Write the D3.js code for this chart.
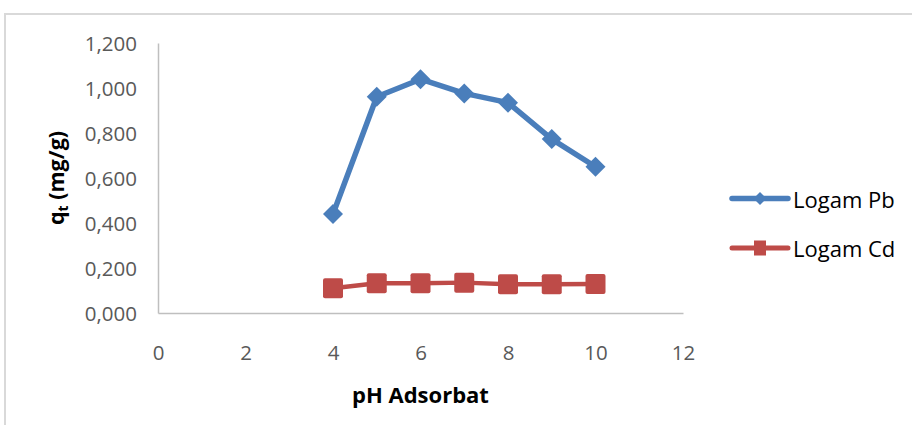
<!DOCTYPE html>
<html>
<head>
<meta charset="utf-8">
<script src="https://cdn.jsdelivr.net/npm/d3@7"></script>
<style>
  html, body { margin: 0; padding: 0; background: #ffffff; }
  svg { display: block; }
  .tick text { font-family: "Open Sans", "Noto Sans", sans-serif; fill: #595959; }
</style>
</head>
<body>
<svg id="chart" width="912" height="425"></svg>
<script>
// pH of the adsorbate solution
const phValues = [4, 5, 6, 7, 8, 9, 10];
// adsorbed amount q_t (mg/g) per metal
const pbValues = [0.440, 0.961, 1.039, 0.976, 0.935, 0.773, 0.650];
const cdValues = [0.110, 0.132, 0.132, 0.135, 0.128, 0.128, 0.129];
const seriesNames = ["Logam Pb", "Logam Cd"];
const xTicks = [0, 2, 4, 6, 8, 10, 12];
const yTicks = [0, 0.2, 0.4, 0.6, 0.8, 1.0, 1.2];
const xTitle = "pH Adsorbat";

const blue = "#4a7ebb";
const red = "#be4b48";

const svg = d3.select("#chart");

// chart frame
svg.append("rect")
  .attr("x", 5).attr("y", 14)
  .attr("width", 930).attr("height", 440)
  .attr("fill", "#ffffff")
  .attr("stroke", "#d9d9d9")
  .attr("stroke-width", 2);

const x = d3.scaleLinear().domain([0, 12]).range([158, 683]);
const y = d3.scaleLinear().domain([0, 1.2]).range([313, 43]);

const commaFmt = v => d3.format(".3f")(v).replace(".", ",");

// y axis
const yAxis = svg.append("g")
  .attr("transform", `translate(${x(0)},0)`)
  .call(d3.axisLeft(y).tickValues(yTicks).tickFormat(commaFmt)
    .tickSize(0).tickSizeOuter(0).tickPadding(21));
yAxis.selectAll(".tick text")
  .attr("font-size", 20.5)
  .attr("dy", 7.5);

// x axis
const xAxis = svg.append("g")
  .attr("transform", `translate(0,${y(0)})`)
  .call(d3.axisBottom(x).tickValues(xTicks).tickFormat(d3.format("d"))
    .tickSize(0).tickSizeOuter(0));
xAxis.selectAll(".tick text")
  .attr("font-size", 20.5)
  .attr("y", 46.5)
  .attr("dy", 0);

svg.selectAll(".domain")
  .attr("stroke", "#bfbfbf")
  .attr("stroke-width", 1.5);

// axis titles
svg.append("text")
  .attr("x", (x(0) + x(12)) / 2)
  .attr("y", 403)
  .attr("text-anchor", "middle")
  .attr("font-family", "'Open Sans', 'Noto Sans', sans-serif")
  .attr("font-weight", "bold")
  .attr("font-size", 22)
  .attr("fill", "#000000")
  .text(xTitle);

const yTitle = svg.append("text")
  .attr("transform", `translate(64,${(y(0) + y(1.2)) / 2}) rotate(-90)`)
  .attr("text-anchor", "middle")
  .attr("font-family", "'Open Sans', 'Noto Sans', sans-serif")
  .attr("font-weight", "bold")
  .attr("font-size", 21.5)
  .attr("fill", "#000000");
yTitle.append("tspan").text("q");
yTitle.append("tspan").attr("font-size", 14).attr("dy", 4).text("t");
yTitle.append("tspan").attr("dy", -4).text(" (mg/g)");

const line = d3.line()
  .x((d, i) => x(phValues[i]))
  .y(d => y(d));

const diamond = s => `M0,${-s}L${s},0L0,${s}L${-s},0Z`;

// Pb series
svg.append("path")
  .datum(pbValues)
  .attr("d", line)
  .attr("fill", "none")
  .attr("stroke", blue)
  .attr("stroke-width", 5.5)
  .attr("stroke-linejoin", "round");
svg.append("g").selectAll("path")
  .data(pbValues)
  .join("path")
  .attr("transform", (d, i) => `translate(${x(phValues[i])},${y(d)})`)
  .attr("d", diamond(10))
  .attr("fill", blue);

// Cd series
svg.append("path")
  .datum(cdValues)
  .attr("d", line)
  .attr("fill", "none")
  .attr("stroke", red)
  .attr("stroke-width", 4.5)
  .attr("stroke-linejoin", "round");
svg.append("g").selectAll("rect")
  .data(cdValues)
  .join("rect")
  .attr("x", (d, i) => x(phValues[i]) - 10)
  .attr("y", d => y(d) - 10)
  .attr("width", 20).attr("height", 20)
  .attr("rx", 2)
  .attr("fill", red);

// legend
const legend = svg.append("g");
const legendRows = [
  { name: seriesNames[0], color: blue, cy: 198.5, width: 5.5 },
  { name: seriesNames[1], color: red, cy: 248, width: 5 }
];
legendRows.forEach((r, i) => {
  legend.append("line")
    .attr("x1", 732).attr("x2", 788)
    .attr("y1", r.cy).attr("y2", r.cy)
    .attr("stroke", r.color)
    .attr("stroke-width", r.width)
    .attr("stroke-linecap", "round");
  if (i === 0) {
    legend.append("path")
      .attr("transform", `translate(760,${r.cy})`)
      .attr("d", diamond(6.5))
      .attr("fill", r.color);
  } else {
    legend.append("rect")
      .attr("x", 754).attr("y", r.cy - 7.5)
      .attr("width", 12).attr("height", 15)
      .attr("fill", r.color);
  }
  legend.append("text")
    .attr("x", 793)
    .attr("y", r.cy + 9)
    .attr("font-family", "'Open Sans', 'Noto Sans', sans-serif")
    .attr("font-size", 22)
    .attr("fill", "#000000")
    .text(r.name);
});
</script>
</body>
</html>
